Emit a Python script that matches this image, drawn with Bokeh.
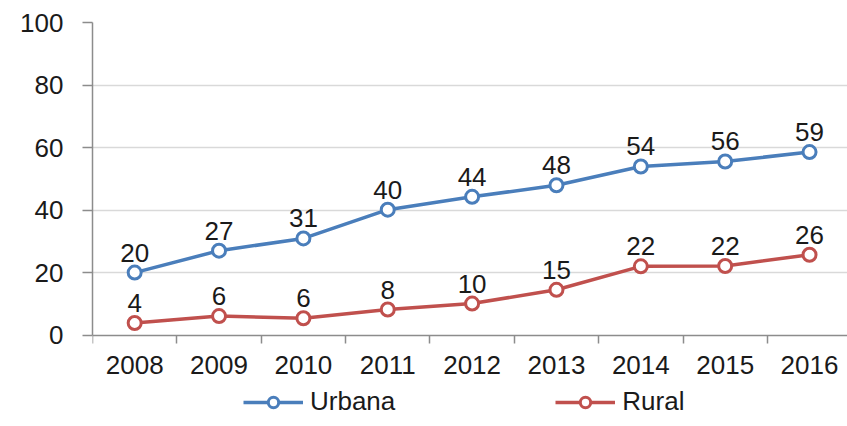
from bokeh.plotting import figure
from bokeh.models import Range1d, FixedTicker, Legend, LegendItem, ColumnDataSource
from bokeh.embed import file_html
from bokeh.resources import INLINE
from bokeh.core.properties import value

years = ["2008", "2009", "2010", "2011", "2012", "2013", "2014", "2015", "2016"]
urbana = [20.1, 27.1, 31.0, 40.2, 44.3, 48.0, 54.0, 55.6, 58.6]
rural = [4.0, 6.2, 5.5, 8.3, 10.2, 14.6, 22.1, 22.2, 25.8]
y_ticks = [0, 20, 40, 60, 80, 100]

FONT = "Liberation Sans"
FS = "26px"
TXT = "#1a1a1a"
BLUE = "#4a7ebb"
RED = "#c0504d"
AXC = "#8c8c8c"

xs = list(range(len(years)))
src = ColumnDataSource(dict(
    x=xs, urb=urbana, rur=rural,
    urb_lbl=[f"{round(v):d}" for v in urbana],
    rur_lbl=[f"{round(v):d}" for v in rural],
))

# frame extends below the value axis to hold the year labels and the legend
p = figure(frame_width=755, frame_height=398, output_backend="svg", toolbar_location=None,
           x_range=Range1d(-0.5, 8.45), y_range=Range1d(-27.16, 100),
           min_border_left=92, min_border_right=0, min_border_top=22, min_border_bottom=0)
p.outline_line_color = None
p.background_fill_color = "white"
p.border_fill_color = "white"

# grid
p.xgrid.grid_line_color = None
p.ygrid.grid_line_color = "#d9d9d9"
p.ygrid.grid_line_width = 1.5
p.ygrid.ticker = FixedTicker(ticks=y_ticks[1:])

# y axis
p.yaxis.ticker = FixedTicker(ticks=y_ticks)
p.yaxis.bounds = (y_ticks[0], y_ticks[-1])
p.yaxis.axis_line_color = AXC
p.yaxis.axis_line_width = 1.5
p.yaxis.major_tick_line_color = AXC
p.yaxis.major_tick_line_width = 1.5
p.yaxis.major_tick_out = 10
p.yaxis.major_tick_in = 0
p.yaxis.minor_tick_line_color = None
p.yaxis.major_label_standoff = 19
p.yaxis.major_label_text_font = FONT
p.yaxis.major_label_text_font_size = FS
p.yaxis.major_label_text_color = TXT

# x axis, drawn at value 0
p.xaxis.fixed_location = 0
p.xaxis.ticker = FixedTicker(ticks=xs, minor_ticks=[i - 0.5 for i in range(len(years) + 1)])
p.xaxis.major_label_overrides = {i: y for i, y in enumerate(years)}
p.xaxis.axis_line_color = AXC
p.xaxis.axis_line_width = 1.5
p.xaxis.major_tick_out = 0
p.xaxis.major_tick_in = 0
p.xaxis.major_tick_line_color = None
p.xaxis.minor_tick_line_color = AXC
p.xaxis.minor_tick_line_width = 1.5
p.xaxis.minor_tick_out = 8
p.xaxis.minor_tick_in = 0
p.xaxis.major_label_standoff = 13
p.xaxis.major_label_text_font = FONT
p.xaxis.major_label_text_font_size = FS
p.xaxis.major_label_text_color = TXT

# series
l1 = p.line("x", "urb", source=src, line_color=BLUE, line_width=3.5)
s1 = p.scatter("x", "urb", source=src, size=13, marker="circle", fill_color="white",
               line_color=BLUE, line_width=3)
l2 = p.line("x", "rur", source=src, line_color=RED, line_width=3.5)
s2 = p.scatter("x", "rur", source=src, size=13, marker="circle", fill_color="white",
               line_color=RED, line_width=3)

p.text("x", "urb", text="urb_lbl", source=src, text_align="center", text_baseline="alphabetic",
       y_offset=-20, text_font=value(FONT), text_font_size=FS, text_color=TXT)
p.text("x", "rur", text="rur_lbl", source=src, text_align="center", text_baseline="alphabetic",
       y_offset=-20, text_font=value(FONT), text_font_size=FS, text_color=TXT)

legend = Legend(items=[LegendItem(label="Urbana", renderers=[l1, s1]),
                       LegendItem(label="Rural", renderers=[l2, s2])],
                orientation="horizontal", location=(151, 3),
                glyph_width=60, glyph_height=26, label_height=26, label_standoff=7, spacing=160,
                padding=0, margin=0, border_line_color=None, background_fill_alpha=0,
                label_text_font=FONT, label_text_font_size=FS, label_text_color=TXT)
p.add_layout(legend, "center")

open("out.html", "w").write(file_html(p, INLINE))
